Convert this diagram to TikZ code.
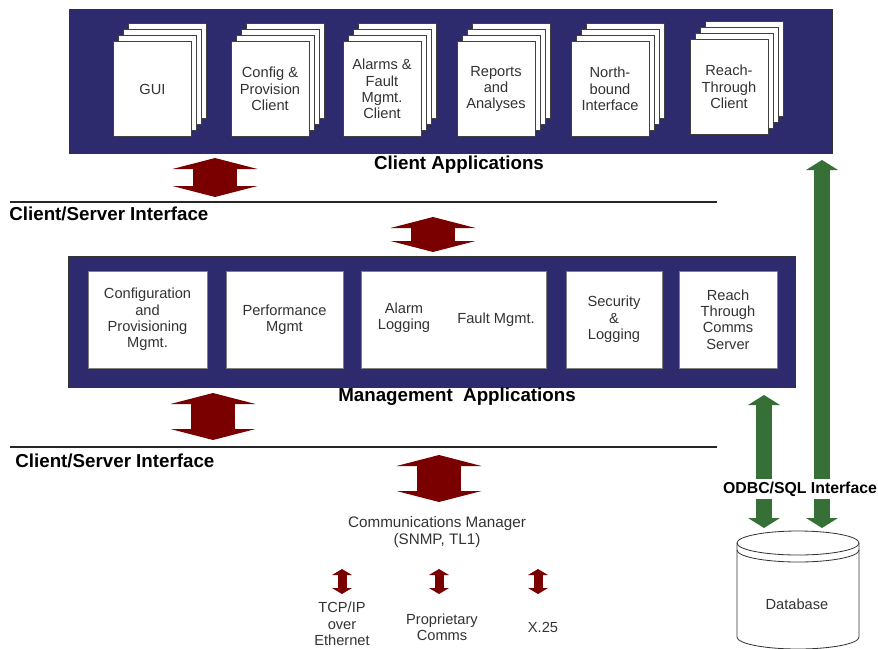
\documentclass[tikz,border=0pt]{standalone}
\usepackage{fontspec}
\setmainfont{Liberation Sans}
\usetikzlibrary{calc,arrows.meta}
\definecolor{panelblue}{RGB}{45,42,110}
\definecolor{arrowred}{RGB}{122,0,0}
\definecolor{sqlgreen}{RGB}{55,112,55}
\newcommand{\boxfont}{\fontsize{12.5}{14}\selectfont}
\newcommand{\headfont}{\fontsize{16}{19}\selectfont\bfseries}
% stack of pages: name, centre, text
\def\docstack(#1)(#2)#3{%
  \foreach \k in {3,2,1}
    \draw[page] ($(#2)+(5*\k,-6*\k)$) +(-39,-47.5) rectangle +(39,47.5);
  \node[page, front] (#1) at (#2) {#3};}

\begin{document}
\begin{tikzpicture}[x=0.03cm, y=-0.03cm,
    panel/.style={fill=panelblue, draw=black!80, line width=0.8pt},
    page/.style={draw=black!75, fill=white, line width=0.6pt},
    front/.style={minimum width=2.34cm, minimum height=2.85cm, align=center, inner sep=1pt, font=\boxfont, text=black!80},
    mgmtbox/.style={draw=black!50, fill=white, minimum height=2.91cm, align=center, inner sep=1pt, font=\boxfont, text=black!80},
    plain/.style={align=center, font=\boxfont, text=black!80, inner sep=1pt},
    head/.style={font=\headfont, inner sep=1pt},
    ifline/.style={line width=2.5pt, black!85},
    redarrow/.style={draw=arrowred, line width=1.3cm, >={Triangle[width=2.55cm, length=0.33cm, line width'=0pt]}, <->},
    smallarrow/.style={draw=arrowred, line width=0.27cm, >={Triangle[width=0.6cm, length=0.18cm, line width'=0pt]}, <->},
    sqlarrow/.style={draw=sqlgreen, line width=0.48cm, >={Triangle[width=0.96cm, length=0.3cm, line width'=0pt]}, <->},
    dbline/.style={draw=black!80, line width=0.7pt}]
  \useasboundingbox (0,0) rectangle (878,648);

  %%%%% CLIENT APPLICATIONS %%%%%
  \node[panel, minimum width=22.89cm, minimum height=4.32cm] (clientpanel) at (450.5,81) {};
  \docstack(gui)(152.5,89){GUI}
  \docstack(config)(270,89){Config \&\\Provision\\Client}
  \docstack(alarms)(382,89){Alarms \&\\Fault\\Mgmt.\\Client}
  \docstack(reports)(496,89){Reports\\and\\Analyses}
  \docstack(north)(610,89){North-\\bound\\Interface}
  \docstack(reach)(729,87){Reach-\\Through\\Client}
  \node[head] (clientlabel) at (459,165) {Client Applications};

  %%%%% INTERFACE 1 %%%%%
  \coordinate (cs1top) at (215,158);
  \coordinate (cs1bot) at (215,197);
  \draw[redarrow] (cs1top) -- (cs1bot);
  \draw[ifline] (10,202) -- (717,202);
  \node[head, anchor=west] (csi1) at (8,214) {Client/Server Interface};
  \coordinate (cs2top) at (433,217);
  \coordinate (cs2bot) at (433,252);
  \draw[redarrow] (cs2top) -- (cs2bot);

  %%%%% MANAGEMENT APPLICATIONS %%%%%
  \node[panel, minimum width=21.81cm, minimum height=3.93cm] (mgmtpanel) at (431.5,321.5) {};
  \node[mgmtbox, minimum width=3.57cm] (confmgmt) at (147.5,319.5) {Configuration\\and\\Provisioning\\Mgmt.};
  \node[mgmtbox, minimum width=3.51cm] (perfmgmt) at (284.5,319.5) {Performance\\Mgmt};
  \node[mgmtbox, minimum width=5.55cm] (alarmfault) at (453.5,319.5) {};
  \node[plain] (alarmlog) at (404,318) {Alarm\\Logging};
  \node[plain] (faultmgmt) at (496,320) {Fault Mgmt.};
  \node[mgmtbox, minimum width=2.88cm] (security) at (614,319.5) {Security\\\&\\Logging};
  \node[mgmtbox, minimum width=2.94cm] (commsserver) at (728,319.5) {Reach\\Through\\Comms\\Server};
  \node[head] (mgmtlabel) at (457,397) {Management~~Applications};

  %%%%% INTERFACE 2 %%%%%
  \coordinate (cs3top) at (213,393);
  \coordinate (cs3bot) at (213,440);
  \draw[redarrow] (cs3top) -- (cs3bot);
  \draw[ifline] (10,447) -- (717,447);
  \node[head, anchor=west] (csi2) at (14,461) {Client/Server Interface};
  \coordinate (cs4top) at (439,455);
  \coordinate (cs4bot) at (439,502);
  \draw[redarrow] (cs4top) -- (cs4bot);

  %%%%% COMMUNICATIONS %%%%%
  \node[plain, font=\fontsize{13}{15}\selectfont] (commsmgr) at (437,532) {Communications Manager\\(SNMP, TL1)};
  \foreach \x/\n in {342/tcp, 439/prop, 538/xtf} {
    \coordinate (\n top) at (\x,569);
    \coordinate (\n bot) at (\x,594);
    \draw[smallarrow] (\n top) -- (\n bot);
  }
  \node[plain] (tcpip) at (342,624) {TCP/IP\\over\\Ethernet};
  \node[plain] (propcomms) at (442,627) {Proprietary\\Comms};
  \node[plain] (xtwentyfive) at (543,627) {X.25};

  %%%%% DATABASE %%%%%
  \coordinate (sqltop1) at (764,395);
  \coordinate (sqlbot1) at (764,528);
  \coordinate (sqltop2) at (822,160);
  \coordinate (sqlbot2) at (822,528);
  \draw[sqlarrow] (sqltop1) -- (sqlbot1);
  \draw[sqlarrow] (sqltop2) -- (sqlbot2);
  \node[head, font=\fontsize{13.5}{16}\selectfont\bfseries, fill=white, inner sep=2pt] (odbc) at (800,489) {ODBC/SQL Interface};

  \draw[dbline] (737,543) -- (737,637) arc[start angle=180, end angle=360, x radius=1.83cm, y radius=0.36cm] -- (859,543);
  \draw[dbline] (798,543) ellipse [x radius=1.83cm, y radius=0.36cm];
  \draw[dbline] (737,550) arc[start angle=180, end angle=360, x radius=1.83cm, y radius=0.36cm];
  \node[plain] (db) at (797,604) {Database};
\end{tikzpicture}
\end{document}
